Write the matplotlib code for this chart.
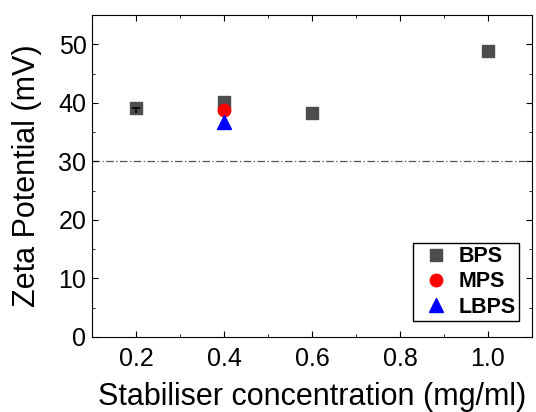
import matplotlib
matplotlib.use("Agg")
import matplotlib.pyplot as plt
from matplotlib.ticker import MultipleLocator
from matplotlib.lines import Line2D

plt.rcParams['font.family'] = ['Liberation Sans', 'DejaVu Sans']

bps_x = [0.2, 0.4, 0.6, 1.0]
bps_y = [39.1, 40.1, 38.2, 48.8]
err_x = [0.2]
err_y = [39.1]
err_low = [0.85]
mps_x = [0.4]
mps_y = [38.8]
lbps_x = [0.4]
lbps_y = [36.7]
ref_level = 30

fig = plt.figure(figsize=(5.36, 4.12), dpi=100)
L, R, T, B = 92, 532, 15, 337
ax = fig.add_axes([L/536, 1-B/412, (R-L)/536, (B-T)/412])

ax.axhline(ref_level, color='#555555', lw=0.9, linestyle=(0, (6, 2, 1, 2)), zorder=1)
ax.plot(bps_x, bps_y, 's', color='#4d4d4d', ms=8, zorder=3)
ax.errorbar(err_x, err_y, yerr=[err_low, [0.0]], fmt='none', ecolor='black',
            capsize=0, elinewidth=1.2, zorder=4)
ax.plot(err_x, err_y, marker='_', ms=6, mew=1.2, color='black', linestyle='none', zorder=4)
ax.plot(mps_x, mps_y, 'o', color='#ff0000', ms=9, zorder=4)
ax.plot(lbps_x, lbps_y, '^', color='#0000ff', ms=10, zorder=4)

ax.set_xlim(0.1, 1.1)
ax.set_ylim(0, 55)
ax.xaxis.set_minor_locator(MultipleLocator(0.1))
ax.yaxis.set_major_locator(MultipleLocator(10))
ax.yaxis.set_minor_locator(MultipleLocator(5))
ax.set_xticks([0.2, 0.4, 0.6, 0.8, 1.0])
ax.set_xticklabels(['0.2', '0.4', '0.6', '0.8', '1.0'])
ax.tick_params(which='both', direction='in', top=True, right=True, labeltop=False, labelright=False)
ax.tick_params(which='major', length=4.5, labelsize=18)
ax.tick_params(axis='x', which='major', pad=7)
ax.tick_params(axis='y', which='major', pad=4)
ax.tick_params(which='minor', length=2.2)

ax.set_xlabel('Stabiliser concentration (mg/ml)', fontsize=22, labelpad=8)
ax.set_ylabel('Zeta Potential (mV)', fontsize=22, labelpad=12)

handles = [
    Line2D([], [], marker='s', color='#4d4d4d', ms=8, linestyle='none'),
    Line2D([], [], marker='o', color='#ff0000', ms=9, linestyle='none'),
    Line2D([], [], marker='^', color='#0000ff', ms=10, linestyle='none'),
]
labels = ['BPS', 'MPS', 'LBPS']
leg = ax.legend(handles, labels, loc='lower right', bbox_to_anchor=(0.9705, 0.05),
                borderaxespad=0, prop={'weight': 'bold', 'size': 15.5},
                frameon=True, fancybox=False, edgecolor='black', handletextpad=0.15,
                labelspacing=0.2, handlelength=1.8, borderpad=0.15, framealpha=1)
leg.get_frame().set_linewidth(1)

fig.savefig('out.png', dpi=100)
